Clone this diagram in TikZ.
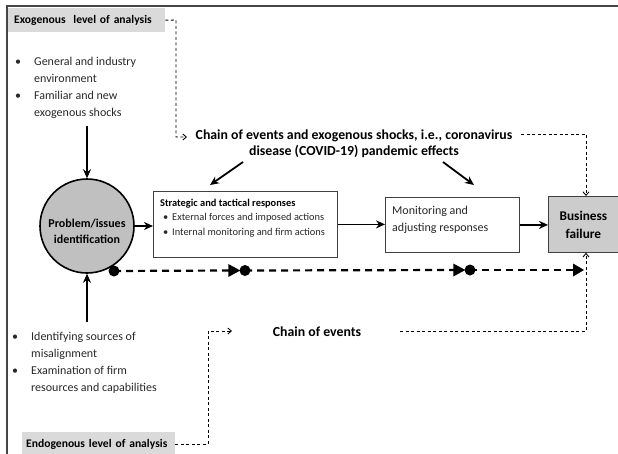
\documentclass[tikz,border=0pt]{standalone}
\usepackage{fontspec}
\setmainfont{Carlito}
\usetikzlibrary{arrows.meta}
\definecolor{lightbox}{RGB}{218,218,218}
\definecolor{midgray}{RGB}{192,192,192}
\definecolor{bfgray}{RGB}{204,204,204}
\definecolor{framec}{RGB}{70,70,70}
\definecolor{txt}{RGB}{40,40,40}
\newcommand{\myblist}[1]{\begin{tabular}[t]{@{}p{19pt}@{}l@{}}#1\end{tabular}}
\tikzset{
  lvlbox/.style={fill=lightbox, inner ysep=0pt, anchor=north west, font=\fontsize{11.6}{13}\selectfont\bfseries, text=black},
  plainbox/.style={draw=black!75, line width=0.8pt, fill=white, anchor=north west, inner sep=0pt},
  listtxt/.style={inner sep=0pt, anchor=base west, font=\fontsize{12}{17}\selectfont, text=txt},
  solidarr/.style={line width=1.8pt, -{Stealth[length=9pt,width=8pt]}},
  thindash/.style={line width=0.9pt, dash pattern=on 3pt off 2.5pt, -{Straight Barb[length=3.5pt,width=6pt,line width=0.9pt]}},
  thickdash/.style={line width=2.2pt, dash pattern=on 7pt off 5pt},
  bigdot/.style={circle, fill=black, inner sep=0pt, minimum size=11pt}
}
\begin{document}
\begin{tikzpicture}[x=1pt,y=-1pt]
\useasboundingbox (0,0) rectangle (618,453);
% frame
\draw[framec, line width=2pt] (7,460) -- (7,6) -- (620,6);

% level boxes
\node[lvlbox, inner xsep=6pt, text width=145pt, minimum height=24pt, align=left] (exo) at (8,8) {Exogenous\ \ level of analysis};
\node[lvlbox, inner xsep=4pt, text width=145pt, minimum height=24pt, align=left] (endo) at (22,432) {Endogenous level of analysis};

% bullet lists
\node[listtxt] (exolist) at (15,65) {\myblist{\textbullet & General and industry\\ & environment\\ \textbullet & Familiar and new\\ & exogenous shocks}};
\node[listtxt] (endolist) at (12,340) {\myblist{\textbullet & Identifying sources of\\ & misalignment\\ \textbullet & Examination of firm\\ & resources and capabilities}};

% circle
\node[circle, draw=black, line width=1.6pt, fill=midgray, minimum size=94pt, inner sep=0pt] (prob) at (87,226) {};
\node[align=center, inner sep=0pt, font=\fontsize{12}{16}\selectfont\bfseries] (probtext) at (87,231) {Problem/issues\\identification};

% strategic box
\node[plainbox, minimum width=184pt, minimum height=66pt] (strat) at (153,191) {};
\node[inner sep=0pt, anchor=base west, font=\fontsize{10.4}{14.5}\selectfont, text=txt] (stext) at (160,206)
  {\begin{tabular}[t]{@{}l@{}}\textbf{\color{black}Strategic and tactical responses}\\
   \hspace*{3pt}\makebox[9pt][l]{\textbullet}External forces and imposed actions\\
   \hspace*{3pt}\makebox[9pt][l]{\textbullet}Internal monitoring and firm actions\end{tabular}};

% monitoring box
\node[plainbox, minimum width=134pt, minimum height=55pt] (mon) at (385,197) {};
\node[inner sep=0pt, anchor=base west, font=\fontsize{12}{17.5}\selectfont, text=txt] (mtext) at (392,214)
  {\begin{tabular}[t]{@{}l@{}}Monitoring and\\adjusting responses\end{tabular}};

% business failure
\node[plainbox, fill=bfgray, minimum width=70pt, minimum height=56pt, align=center,
      font=\fontsize{13.3}{18}\selectfont\bfseries] (bf) at (548,196) {Business\\failure};

% top text
\node[align=center, font=\fontsize{13.8}{16}\selectfont\bfseries, inner sep=0pt] (toptext) at (354,144)
  {Chain of events and exogenous shocks, i.e., coronavirus\\disease (COVID-19) pandemic effects};
\node[font=\fontsize{13.8}{16}\selectfont\bfseries, inner sep=0pt] (chain) at (317,332) {Chain of events};

% coordinates
\coordinate (topin) at (87,126);
\coordinate (botin) at (87,322);
\coordinate (la1) at (243,162);
\coordinate (la2) at (210,185);
\coordinate (ra1) at (443,162);
\coordinate (ra2) at (474,185);
\coordinate (exoturn) at (176,20);
\coordinate (exodown) at (176,137);
\coordinate (exoend) at (187,137);
\coordinate (trs) at (521,134);
\coordinate (trc) at (586,134);
\coordinate (endoturn) at (208,444);
\coordinate (endoup) at (208,331);
\coordinate (endoend) at (232,331);
\coordinate (brs) at (400,331);
\coordinate (brc) at (586,331);
\coordinate (dend) at (584,270);

% solid arrows
\draw[solidarr] (topin) -- (prob.north);
\draw[solidarr] (botin) -- (prob.south);
\draw[solidarr] (prob.east) -- (prob.east -| strat.west);
\draw[solidarr] (strat.east) -- (strat.east -| mon.west);
\draw[solidarr] (mon.east) -- (mon.east -| bf.west);
\draw[solidarr] (la1) -- (la2);
\draw[solidarr] (ra1) -- (ra2);

% thin dashed connectors
\draw[thindash] (exo.east) -- (exoturn) -- (exodown) -- (exoend);
\draw[thindash] (trs) -- (trc) -- (trc |- bf.north);
\draw[thindash] (endo.east |- endoturn) -- (endoturn) -- (endoup) -- (endoend);
\draw[thindash] (brs) -- (brc) -- (brc |- bf.south);

% thick dashed chain with dots
\node[bigdot] (d1) at (114,271) {};
\node[bigdot] (d2) at (245,270.5) {};
\node[bigdot] (d3) at (470,270) {};
\draw[thickdash] (d1.center) -- ([xshift=-9pt]d2.west);
\fill ([xshift=-11pt,yshift=-6.5pt]d2.west) -- ([xshift=1pt]d2.west) -- ([xshift=-11pt,yshift=6.5pt]d2.west) -- cycle;
\draw[thickdash] (d2.center) -- ([xshift=-9pt]d3.west);
\fill ([xshift=-11pt,yshift=-6.5pt]d3.west) -- ([xshift=1pt]d3.west) -- ([xshift=-11pt,yshift=6.5pt]d3.west) -- cycle;
\draw[thickdash] (d3.center) -- ([xshift=-9pt]dend);
\fill ([xshift=-11pt,yshift=-6.5pt]dend) -- (dend) -- ([xshift=-11pt,yshift=6.5pt]dend) -- cycle;
\end{tikzpicture}
\end{document}
